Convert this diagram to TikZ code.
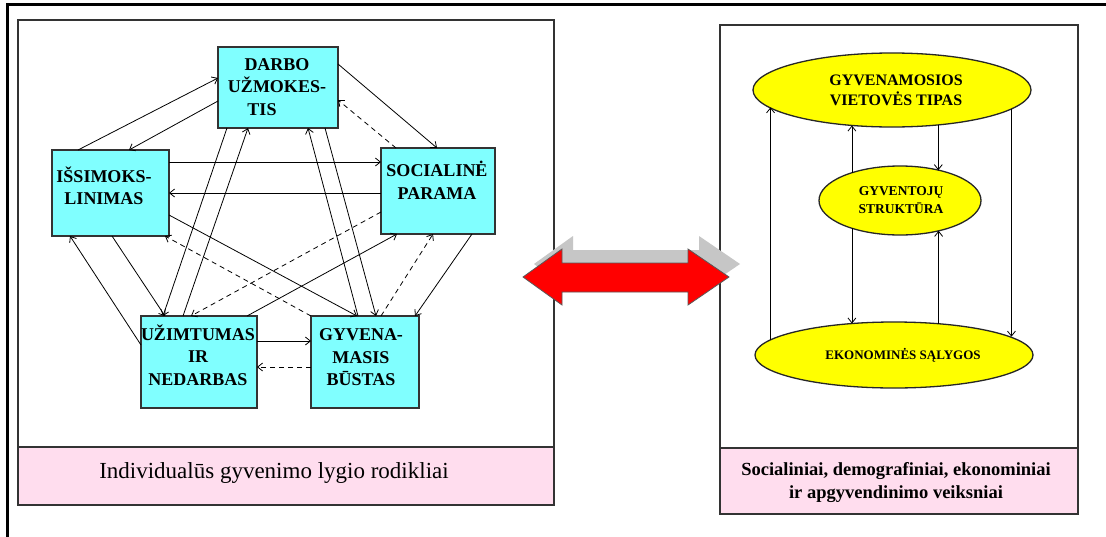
\documentclass[tikz,border=0pt]{standalone}
\usepackage{fontspec}
\setmainfont{Liberation Serif}
\usetikzlibrary{arrows.meta,shapes.geometric,calc}
\definecolor{boxcyan}{RGB}{128,255,255}
\definecolor{bandpink}{RGB}{255,221,238}
\definecolor{ellyellow}{RGB}{255,255,0}
\tikzset{
  panel/.style={draw=black!80, line width=1.2pt},
  box/.style={draw=black!80, line width=1.6pt, fill=boxcyan, inner sep=0pt, outer sep=0pt},
  lbl/.style={align=center, inner sep=0pt, font=\fontsize{18}{22.5}\selectfont\bfseries},
  ell/.style={ellipse, draw=black!85, line width=1.3pt, fill=ellyellow, inner sep=0pt, outer sep=0pt},
  elbl/.style={align=center, inner sep=0pt},
  conn/.style={line width=0.8pt, -{Straight Barb[length=5pt,width=8pt]}},
  dconn/.style={conn, dash pattern=on 5pt off 4pt},
  bandtext/.style={align=center, inner sep=0pt},
}
\begin{document}
\begin{tikzpicture}[x=1pt,y=-1pt]
\useasboundingbox (0,0) rectangle (1106,536);
\fill[white] (0,0) rectangle (1106,536);
% outer frame
\draw[line width=3pt] (1115,4) -- (7,4) -- (7,545);
% left panel
\draw[panel] (18,20) rectangle (554,505);
\draw[panel, fill=bandpink] (18,447) rectangle (554,505);
\node[bandtext, font=\fontsize{23}{27}\selectfont] (lefttitle) at (274,473) {Individualūs gyvenimo lygio rodikliai};
% right panel
\draw[panel] (720,25) rectangle (1078,514);
\draw[panel, fill=bandpink] (720,448) rectangle (1078,514);
\node[bandtext, font=\fontsize{18.5}{23}\selectfont\bfseries] (righttitle) at (896,483) {Socialiniai, demografiniai, ekonominiai\\ir apgyvendinimo veiksniai};
% double arrow (shadow then red)
\fill[gray!45] (534,264) -- (573,236) -- (573,250) -- (699,250) -- (699,236) -- (740,264) -- (699,292) -- (699,279) -- (573,279) -- (573,292) -- cycle;
\filldraw[fill=red, draw=black!65, line width=0.8pt] (523,277) -- (562,249) -- (562,263) -- (688,263) -- (688,249) -- (729,277) -- (688,305) -- (688,292) -- (562,292) -- (562,305) -- cycle;
% boxes
\node[box, minimum width=120pt, minimum height=81pt] (darbo) at (278,87.5) {};
\node[box, minimum width=117pt, minimum height=86pt] (issi) at (110.5,193) {};
\node[box, minimum width=114pt, minimum height=86pt] (soc) at (438,191) {};
\node[box, minimum width=116pt, minimum height=92pt] (uzim) at (199,362) {};
\node[box, minimum width=108pt, minimum height=92pt] (gyv) at (365,362) {};
\node[lbl] (darbo-t) at (277,87) {DARBO\\UŽMOKES-\\TIS\hspace*{30pt}};
\node[lbl] (issi-t) at (104,186) {IŠSIMOKS-\\LINIMAS};
\node[lbl] (soc-t) at (437,180.5) {SOCIALINĖ\\PARAMA};
\node[lbl] (uzim-t) at (198,355) {UŽIMTUMAS\\IR\\NEDARBAS};
\node[lbl] (gyv-t) at (361,357.5) {GYVENA-\\MASIS\\BŪSTAS};
% left connectors
\draw[conn] ($(issi.north west)+(26,0)$) -- ($(darbo.north west)+(0,31)$);
\draw[conn] ($(darbo.north west)+(0,54)$) -- ($(issi.north west)+(77,0)$);
\draw[conn] ($(darbo.north east)+(0,17)$) -- ($(soc.north west)+(56,0)$);
\draw[dconn] ($(soc.north west)+(15,0)$) -- ($(darbo.north east)+(0,53)$);
\draw[conn] ($(issi.north east)+(0,12)$) -- ($(soc.north west)+(0,14)$);
\draw[conn] ($(soc.north west)+(0,45)$) -- ($(issi.north east)+(0,43)$);
\draw[conn] ($(issi.north east)+(0,65)$) -- ($(gyv.north west)+(46,0)$);
\draw[dconn] (gyv.north west) -- ($(issi.south east)+(-4,0)$);
\draw[conn] ($(issi.south west)+(60,0)$) -- ($(uzim.north west)+(24,0)$);
\draw[conn] ($(uzim.north west)+(0,29)$) -- ($(issi.south west)+(18,0)$);
\draw[conn] ($(darbo.south west)+(9,0)$) -- ($(uzim.north west)+(22,0)$);
\draw[conn] ($(uzim.north west)+(42,0)$) -- ($(darbo.south west)+(30,0)$);
\draw[dconn] ($(soc.north west)+(0,64)$) -- ($(uzim.north west)+(50,0)$);
\draw[conn] ($(uzim.north east)+(-10,0)$) -- ($(soc.south west)+(16,0)$);
\draw[conn] ($(gyv.north west)+(47,0)$) -- ($(darbo.south west)+(90,0)$);
\draw[conn] ($(darbo.south west)+(107,0)$) -- ($(gyv.north west)+(65,0)$);
\draw[dconn] ($(gyv.north west)+(70,0)$) -- ($(soc.south west)+(52,0)$);
\draw[conn] ($(soc.south west)+(91,0)$) -- ($(gyv.north east)+(-4,0)$);
\draw[conn] ($(uzim.north east)+(0,25)$) -- ($(gyv.north west)+(0,25)$);
\draw[dconn] ($(gyv.north west)+(0,51)$) -- ($(uzim.north east)+(0,51)$);
% ellipses
\node[ell, minimum width=278pt, minimum height=74pt] (gva) at (892,90) {};
\node[ell, minimum width=162pt, minimum height=69pt] (gtj) at (900,200.5) {};
\node[ell, minimum width=278pt, minimum height=66pt] (ekon) at (894,355) {};
\node[elbl, font=\fontsize{16}{20}\selectfont\bfseries] (gva-t) at (896,90.5) {GYVENAMOSIOS\\VIETOVĖS TIPAS};
\node[elbl, font=\fontsize{13.5}{18}\selectfont\bfseries] (gtj-t) at (901,200.5) {GYVENTOJŲ\\STRUKTŪRA};
\node[elbl, font=\fontsize{13}{16}\selectfont\bfseries] (ekon-t) at (903,355.5) {EKONOMINĖS SĄLYGOS};
% right connectors
\draw[conn] (ekon.173) -- (ekon.173 |- gva.188);
\draw[conn] (gva.-9) -- (gva.-9 |- ekon.9);
\draw[conn] (gtj.150) -- (gtj.150 |- gva.-138);
\draw[conn] (gva.-37) -- (gva.-37 |- gtj.38);
\draw[conn] (gtj.210) -- (gtj.210 |- ekon.143);
\draw[conn] (ekon.35) -- (ekon.35 |- gtj.-38);
\end{tikzpicture}
\end{document}
